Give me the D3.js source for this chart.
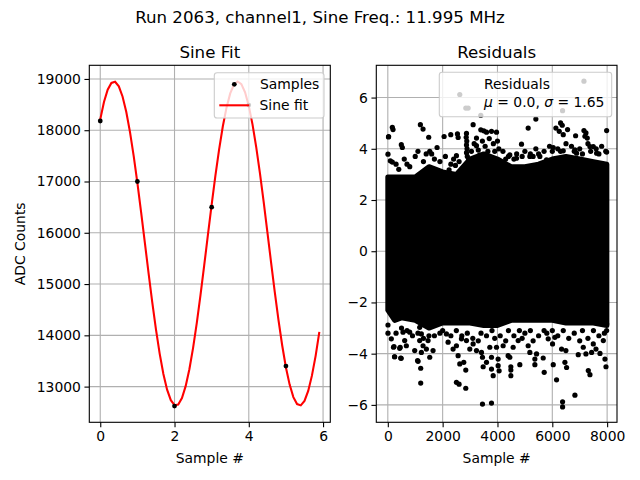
<!DOCTYPE html>
<html><head><meta charset="utf-8">
<script src="https://cdn.jsdelivr.net/npm/d3@7"></script>
<style>body{margin:0;background:#fff}svg{display:block}text{font-family:"DejaVu Sans",sans-serif;fill:#000}</style>
</head><body>
<svg id="c" width="640" height="480"></svg>
<script>
// ---------- data ----------
const title = "Run 2063, channel1, Sine Freq.: 11.995 MHz";
const sampleX = [0, 1, 2, 3, 4, 5];
const sampleY = [18180, 17000, 12620, 16500, 18490, 13400];
// fit curve read every 0.1 sample from 0 to 5.9
const fitY = [18212,18550,18789,18922,18945,18856,18658,18359,17968,17501,
  16971,16404,15812,15220,14649,14117,13644,13247,12941,12735,
  12638,12652,12777,13009,13339,13756,14244,14789,15368,15962,
  16550,17110,17622,18072,18440,18717,18889,18950,18899,18739,
  18474,18114,17671,17163,16606,16019,15424,14843,14295,13802,
  13374,13039,12795,12659,12634,12721,12916,13214,13600,14066];
const fitStep = 0.1;
const leftXTicks = [0, 2, 4, 6];
const leftYTicks = [13000, 14000, 15000, 16000, 17000, 18000, 19000];
const rightXTicks = [0, 2000, 4000, 6000, 8000];
const rightYTicks = [-6, -4, -2, 0, 2, 4, 6];
// dense core of the residual cloud (edges)
const coreX   = [0, 250, 500, 1000, 1500, 2000, 2500, 3000, 3500, 4000, 4500, 5000, 5500, 6000, 6500, 7000, 7500, 7990];
const coreTop = [2.9, 2.9, 2.9, 2.9, 3.3, 3.1, 3.0, 3.6, 3.8, 3.6, 3.3, 3.3, 3.4, 3.6, 3.7, 3.6, 3.5, 3.4];
const coreBot = [-2.3, -2.7, -2.6, -2.7, -3.0, -2.8, -2.8, -2.8, -2.9, -2.9, -2.7, -2.7, -2.7, -2.7, -2.8, -2.8, -2.8, -2.9];
// individual residual points outside the core
const upperPts = [[24,4.46],[165,4.84],[190,4.75],[30,4.48],[1188,4.94],[1285,4.77],[1492,4.45],[2053,4.48],[2296,4.55],[2540,4.58],[2565,4.44],[2625,6.12],[3112,4.94],[3392,4.74],[3502,4.70],[3600,4.65],[3782,4.68],[3965,4.65],[493,4.16],[530,4.05],[1797,4.05],[6,3.79],[92,3.53],[165,3.48],[1529,3.90],[2503,3.73],[2467,3.35],[2235,3.18],[3234,4.42],[3234,4.12],
 [5400,5.16],[5120,4.81],[4877,4.18],[6131,4.81],[6302,5.01],[6363,4.92],[6253,4.68],[6399,4.55],[6557,4.75],[6850,4.51],[7154,4.71],[7227,4.62],[7191,4.49],[7276,4.42],[7982,4.71],[5400,4.0],[6034,4.05],[6399,3.92],[6825,3.96],[6886,3.83],[7373,4.09],[7495,4.09],[7617,3.83],[7982,3.87],[4450,3.76],[4694,3.63],[5181,3.70],[5546,3.70],[5790,3.57],
 [2870,4.6],[2860,4.45],[2880,4.3],[2870,4.15],[2890,4.0],[2870,3.85],[2900,3.7],[2950,3.6],
 [3050,3.9],[3150,4.2],[3300,3.95],[3350,3.75],[3450,4.3],[3550,4.1],[3650,3.9],[3700,4.4],[3850,4.2],[3900,3.9],[4000,4.3],[4050,4.0],[3150,3.6],[3450,3.55],[3750,3.6],[4000,3.5],
 [300,3.4],[600,3.6],[800,3.3],[1000,3.7],[1100,3.9],[1300,3.5],[1400,3.8],[1700,3.6],[1900,3.5],[2100,3.7],[2300,3.4],[2600,3.5],[4200,3.9],[4400,3.7],[4700,3.8],[5000,3.9],[5200,3.8],[5700,3.9],[5900,4.1],[6200,4.0],[6500,4.2],[6700,4.1],[7000,4.0],[7300,4.2],[7600,4.0],[7800,4.1],[7950,3.9],
 [400,3.2],[700,3.4],[1600,3.8],[2400,3.6],[4300,3.6],[4600,3.6],[4900,3.7],[5300,3.7],[5500,3.8],[6000,3.9],[6300,3.9],[6800,3.9],[7100,3.8],[7400,3.9],[7700,3.8],
 [2845,5.59],[2930,5.59],[3392,5.31],[7154,6.64],[6375,5.49]];
const lowerPts = [[6,-2.88],[6,-3.20],[128,-3.42],[225,-3.72],[433,-3.79],[250,-4.12],[470,-4.17],[554,-3.16],[615,-3.49],[798,-3.16],[676,-3.69],[981,-3.88],[1103,-4.30],[1200,-4.57],[1200,-5.15],[1163,-2.97],[1224,-3.23],[1163,-3.49],[1285,-3.69],[1224,-3.95],[1407,-3.82],[1468,-3.49],[1529,-4.14],[1650,-3.88],[2138,-3.23],[2199,-3.55],[2381,-3.82],[2503,-3.69],[2564,-4.08],[2625,-4.40],[2771,-4.34],[2844,-4.64],[2503,-5.12],[2600,-5.19],[2844,-5.35],[2686,-3.42],[2869,-3.49],[2990,-3.82],[3112,-3.62],[3234,-3.88],[3417,-3.95],[3453,-4.14],[3478,-4.51],[3600,-4.34],[3782,-4.14],[3782,-4.60],[3843,-4.86],[3721,-3.75],[3965,-3.75],[3453,-5.97],[3782,-5.93],
 [4024,-4.21],[4024,-4.47],[4060,-4.67],[4450,-4.14],[4487,-4.51],[4487,-4.64],[4487,-4.86],[4389,-4.08],[4816,-4.43],[4207,-3.69],[4572,-3.75],[4755,-3.49],[5120,-3.69],[5181,-3.95],[5364,-4.21],[5364,-4.43],[5668,-4.17],[5705,-4.73],[5425,-4.01],[6034,-4.43],[6155,-5.02],[6460,-4.34],[6521,-4.54],[6496,-3.88],[6338,-3.82],[6009,-3.62],[6094,-3.36],[5851,-3.42],[6375,-5.88],[6375,-6.08],[6825,-5.62],[6947,-4.04],[7227,-4.01],[7434,-3.95],[7593,-3.82],[7739,-3.99],[7313,-4.66],[7373,-4.82],[7921,-4.21],[7958,-4.51],[7130,-3.75],[7495,-3.62],[7861,-3.49],[7982,-3.10],[7982,-2.84],
 [244,-4.12],[488,-4.18],[1086,-4.27],[207,-3.75],[451,-3.75],
 [300,-3.2],[700,-3.1],[900,-3.3],[1300,-3.4],[1700,-3.3],[1900,-3.2],[2300,-3.3],[2700,-3.3],[3100,-3.4],[3300,-3.5],[3600,-3.3],[3900,-3.4],[4100,-3.3],[4300,-3.5],[4600,-3.3],[4900,-3.4],[5000,-3.2],[5300,-3.5],[5500,-3.3],[5800,-3.2],[6200,-3.3],[6600,-3.4],[6800,-3.2],[7000,-3.5],[7300,-3.4],[7700,-3.3],
 [500,-3.0],[1100,-3.2],[1500,-3.3],[2000,-3.1],[2500,-3.1],[2900,-3.2],[3400,-3.2],[3800,-3.1],[4400,-3.1],[4800,-3.1],[5200,-3.1],[5700,-3.1],[6000,-3.1],[6400,-3.1],[7100,-3.1],[7500,-3.1],[7900,-3.2]];
const residMu = "0.0", residSigma = "1.65";

// ---------- layout ----------
const svg = d3.select("#c");
const FS = 13.9, TFS = 16.67;
const L = {x0: 89.3, x1: 330.3, y0: 65.3, y1: 422.3};
const R = {x0: 376.3, x1: 617, y0: 65.3, y1: 422.3};

const lx = d3.scaleLinear().domain([-0.295, 6.195]).range([L.x0, L.x1]);
const ly = d3.scaleLinear().domain([12304, 19266]).range([L.y1, L.y0]);
const rx = d3.scaleLinear().domain([-420, 8360]).range([R.x0, R.x1]);
const ry = d3.scaleLinear().domain([-6.68, 7.26]).range([R.y1, R.y0]);

const fmtMinus = d => String(d).replace("-", "\u2212");

function panel(B, xs, ys, xt, yt, ttl, xlab, ylab) {
  const g = svg.append("g");
  g.append("g").selectAll("line").data(xt).join("line")
    .attr("x1", d => xs(d)).attr("x2", d => xs(d)).attr("y1", B.y0).attr("y2", B.y1)
    .attr("stroke", "#b0b0b0").attr("stroke-width", 1.1);
  g.append("g").selectAll("line").data(yt).join("line")
    .attr("y1", d => ys(d)).attr("y2", d => ys(d)).attr("x1", B.x0).attr("x2", B.x1)
    .attr("stroke", "#b0b0b0").attr("stroke-width", 1.1);
  const ax = svg.append("g").attr("transform", `translate(0,${B.y1})`)
    .call(d3.axisBottom(xs).tickValues(xt).tickFormat(fmtMinus).tickSizeInner(4.86).tickSizeOuter(0).tickPadding(3.5));
  const ay = svg.append("g").attr("transform", `translate(${B.x0},0)`)
    .call(d3.axisLeft(ys).tickValues(yt).tickFormat(fmtMinus).tickSizeInner(4.86).tickSizeOuter(0).tickPadding(3.5));
  [ax, ay].forEach(a => {
    a.select(".domain").remove();
    a.selectAll("line").attr("stroke", "#000").attr("stroke-width", 1.1);
    a.selectAll("text").attr("font-size", FS).attr("font-family", "DejaVu Sans").attr("fill", "#000");
  });
  svg.append("text").attr("x", (B.x0 + B.x1) / 2).attr("y", 57.5).attr("text-anchor", "middle")
    .attr("font-size", TFS).text(ttl);
  svg.append("text").attr("x", (B.x0 + B.x1) / 2).attr("y", 462.5).attr("text-anchor", "middle")
    .attr("font-size", FS).text(xlab);
  if (ylab) svg.append("text").attr("transform", `translate(25,${(B.y0 + B.y1) / 2}) rotate(-90)`)
    .attr("text-anchor", "middle").attr("font-size", FS).text(ylab);
  return g;
}
function frame(B) {
  svg.append("rect").attr("x", B.x0).attr("y", B.y0).attr("width", B.x1 - B.x0).attr("height", B.y1 - B.y0)
    .attr("fill", "none").attr("stroke", "#000").attr("stroke-width", 1.1);
}

svg.append("text").attr("x", 320).attr("y", 22.7).attr("text-anchor", "middle").attr("font-size", TFS).text(title);

// left panel
const gl = panel(L, lx, ly, leftXTicks, leftYTicks, "Sine Fit", "Sample #", "ADC Counts");
gl.append("path").datum(fitY)
  .attr("d", d3.line().x((d, i) => lx(i * fitStep)).y(d => ly(d)))
  .attr("fill", "none").attr("stroke", "#ff0000").attr("stroke-width", 2.08);
gl.append("g").selectAll("circle").data(sampleX).join("circle")
  .attr("cx", d => lx(d)).attr("cy", (d, i) => ly(sampleY[i])).attr("r", 2.4).attr("fill", "#000");
frame(L);
const lg = svg.append("g");
lg.append("rect").attr("x", 214.3).attr("y", 72.7).attr("width", 109.7).attr("height", 45.3).attr("rx", 2.8)
  .attr("fill", "#fff").attr("fill-opacity", 0.8).attr("stroke", "#cccccc").attr("stroke-width", 1.1);
lg.append("circle").attr("cx", 234.3).attr("cy", 84.3).attr("r", 2.4).attr("fill", "#000");
lg.append("line").attr("x1", 219.3).attr("x2", 249.3).attr("y1", 105.3).attr("y2", 105.3).attr("stroke", "#ff0000").attr("stroke-width", 2.08);
lg.append("text").attr("x", 260).attr("y", 89.2).attr("font-size", FS).text("Samples");
lg.append("text").attr("x", 259.5).attr("y", 110.2).attr("font-size", FS).text("Sine fit");

// right panel
const gr = panel(R, rx, ry, rightXTicks, rightYTicks, "Residuals", "Sample #", null);
gr.append("path").datum(coreX)
  .attr("d", d3.area().x(d => rx(d)).y0((d, i) => ry(coreBot[i])).y1((d, i) => ry(coreTop[i])))
  .attr("fill", "#000").attr("stroke", "#000").attr("stroke-width", 5).attr("stroke-linejoin", "round");
gr.append("g").selectAll("circle").data(upperPts.concat(lowerPts)).join("circle")
  .attr("cx", d => rx(d[0])).attr("cy", d => ry(d[1])).attr("r", 2.6).attr("fill", "#000");
frame(R);
const rg = svg.append("g");
rg.append("rect").attr("x", 439.3).attr("y", 72.3).attr("width", 172.4).attr("height", 44.4).attr("rx", 2.8)
  .attr("fill", "#fff").attr("fill-opacity", 0.8).attr("stroke", "#cccccc").attr("stroke-width", 1.1);
rg.append("text").attr("x", 484).attr("y", 89).attr("font-size", FS).text("Residuals");
const t2 = rg.append("text").attr("x", 484).attr("y", 106.7).attr("font-size", FS);
t2.append("tspan").attr("font-style", "italic").text("\u03bc");
t2.append("tspan").text(" = " + residMu + ", ");
t2.append("tspan").attr("font-style", "italic").text("\u03c3");
t2.append("tspan").text(" = " + residSigma);
</script>
</body></html>
